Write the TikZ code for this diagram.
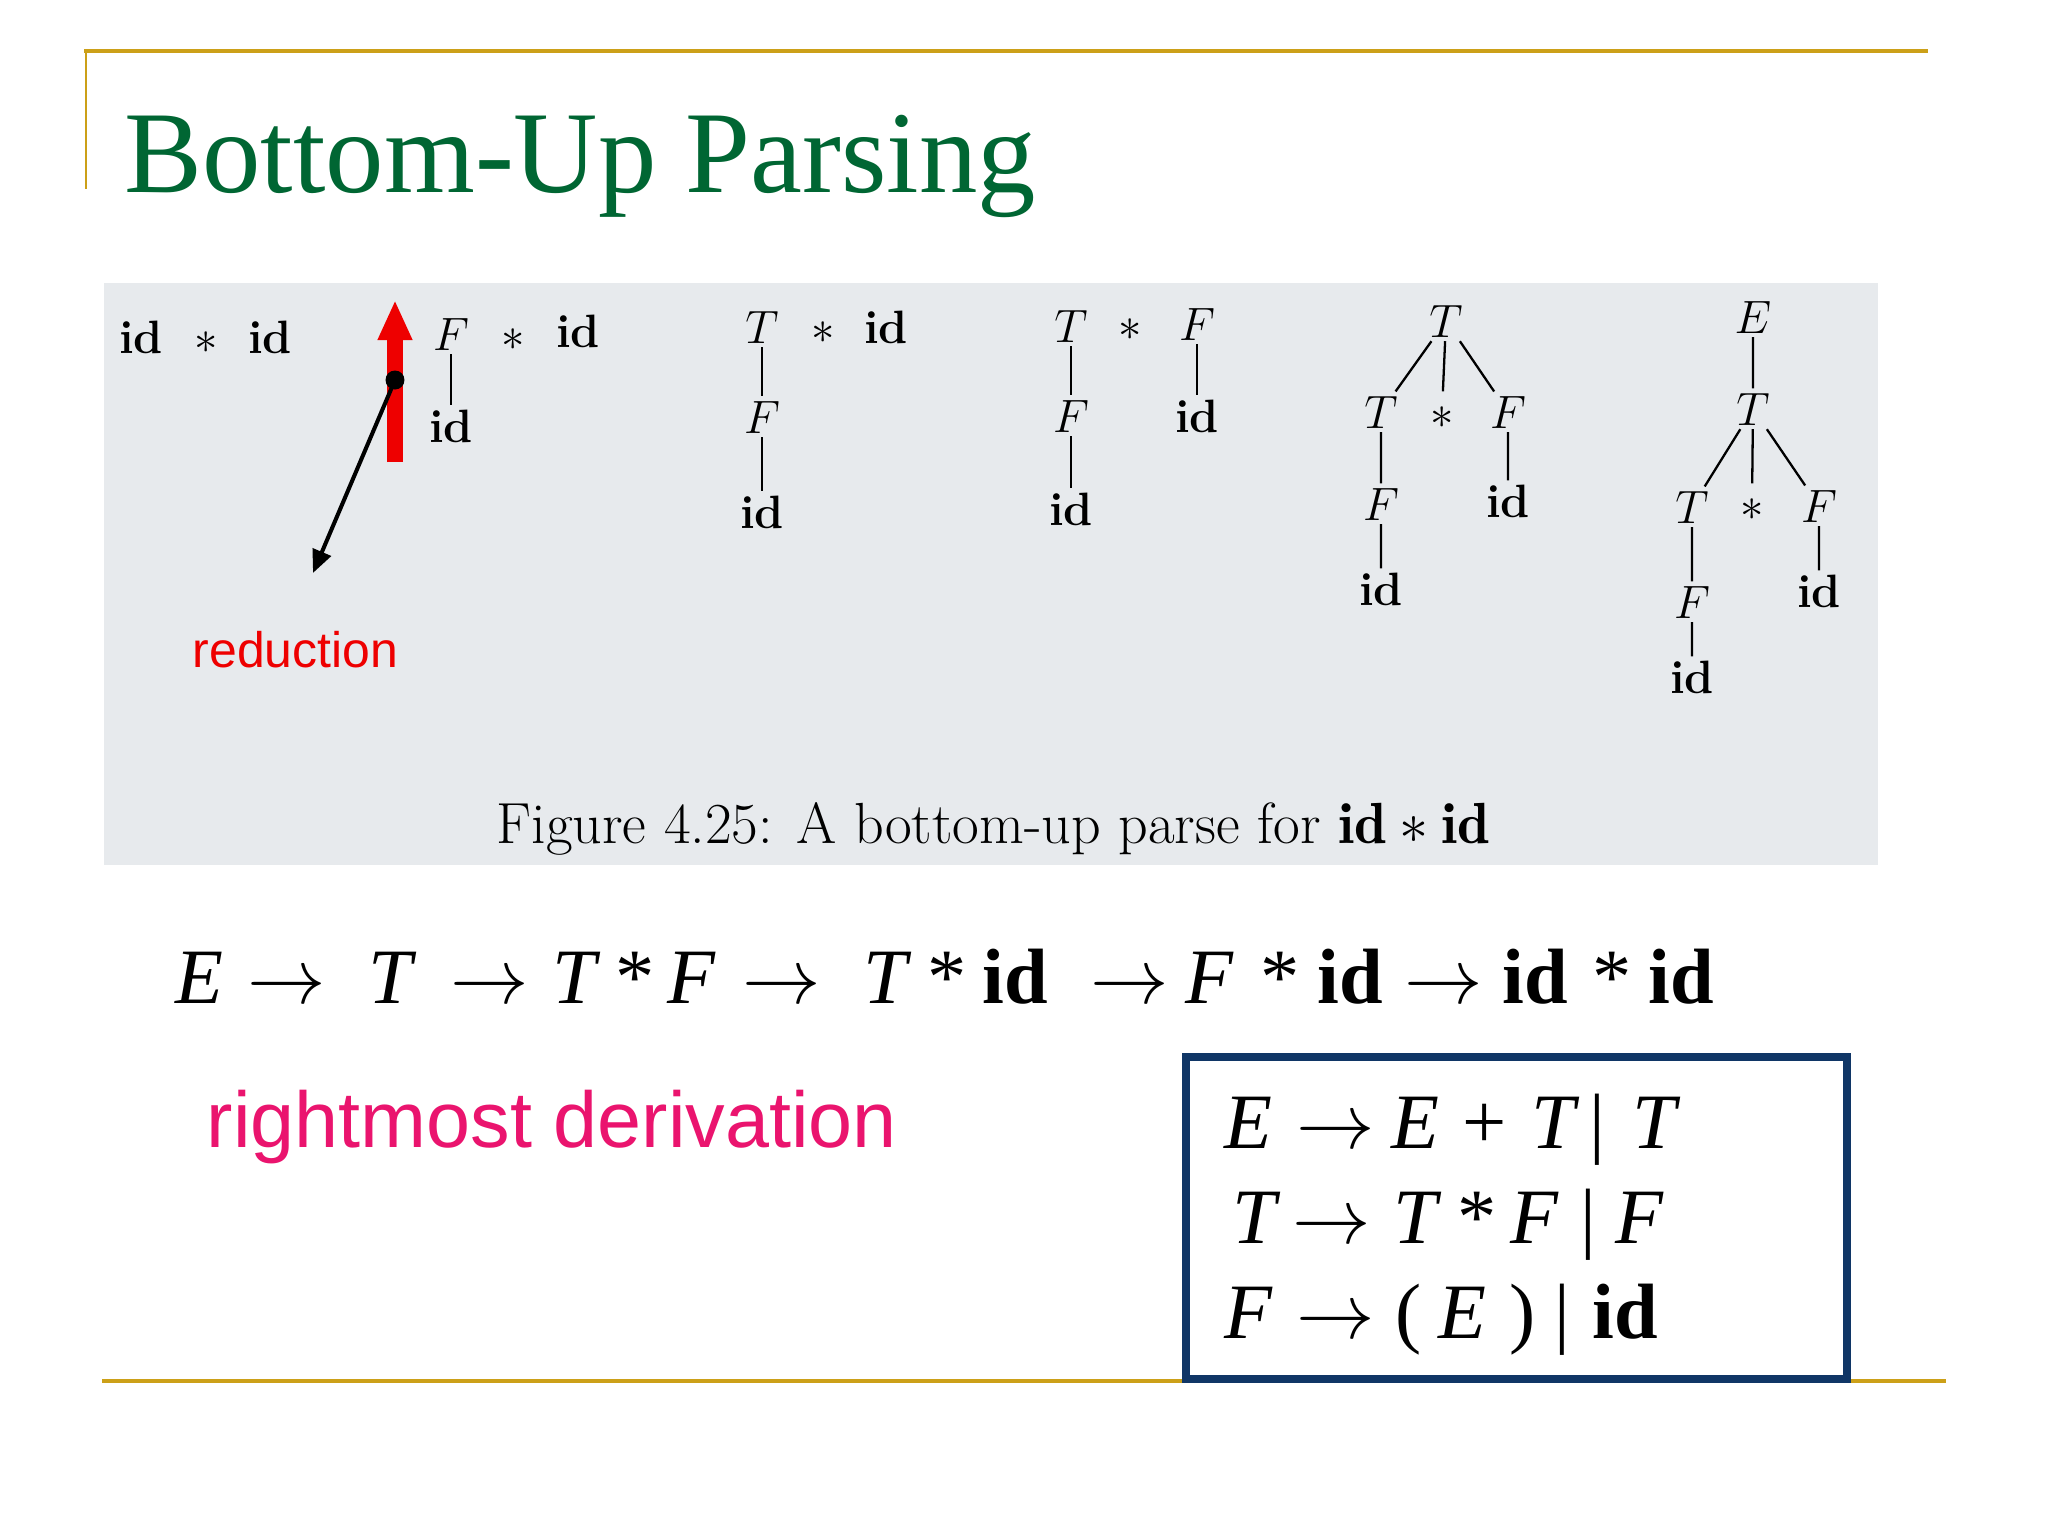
\RequirePackage{fix-cm}
\documentclass[tikz,border=0pt]{standalone}
\usepackage{fontspec}
\usepackage{amsmath,amssymb}
\usetikzlibrary{arrows.meta}
\newfontfamily\timesfont{Liberation Serif}
\newfontfamily\arialfont{Liberation Sans}
\definecolor{gold}{RGB}{204,160,24}
\definecolor{titlegreen}{RGB}{0,102,51}
\definecolor{paper}{RGB}{231,234,237}
\definecolor{boxblue}{RGB}{16,54,102}
\definecolor{pinkred}{RGB}{234,20,110}
\definecolor{redmark}{RGB}{238,0,0}

\begin{document}
\begin{tikzpicture}[x=0.01cm,y=-0.01cm,
  fig/.style={font=\fontsize{13.3}{15}\selectfont, inner sep=1pt,
    text height=9.2pt, text depth=0pt, anchor=base},
  edge/.style={line width=0.65pt},
  tok/.style={font=\timesfont\fontsize{22.3}{26}\selectfont,
    anchor=base west, inner sep=0pt}]
\useasboundingbox (0,0) rectangle (2048,1536);
\fill[white] (0,0) rectangle (2048,1536);

% frame lines and title
\draw[gold, line width=1.2pt] (84,51) -- (1928,51);
\draw[gold, line width=0.8pt] (86,51) -- (86,189);
\draw[gold, line width=1.2pt] (102,1381) -- (1946,1381);
\node[anchor=base west, inner sep=0pt, text=titlegreen,
  font=\timesfont\fontsize{33.2}{38}\selectfont] (title) at (124,192) {Bottom-Up Parsing};

% scanned figure
\fill[paper] (104,283) rectangle (1878,865);

\node[fig] (p1a) at (141,353) {\textbf{id}};
\node[fig] (p1b) at (206,353) {$*$};
\node[fig] (p1c) at (270,353) {\textbf{id}};

\node[fig] (p2a) at (451,350) {$F$};
\node[fig] (p2b) at (451,442) {\textbf{id}};
\node[fig] (p2c) at (513,350) {$*$};
\node[fig] (p2d) at (578,347) {\textbf{id}};
\draw[edge] (p2a) -- (p2b);

\node[fig] (p3a) at (762,343) {$T$};
\node[fig] (p3b) at (762,433) {$F$};
\node[fig] (p3c) at (762,528) {\textbf{id}};
\node[fig] (p3d) at (823,343) {$*$};
\node[fig] (p3e) at (886,343) {\textbf{id}};
\draw[edge] (p3a) -- (p3b) (p3b) -- (p3c);

\node[fig] (p4a) at (1071,342) {$T$};
\node[fig] (p4b) at (1071,432) {$F$};
\node[fig] (p4c) at (1071,525) {\textbf{id}};
\node[fig] (p4d) at (1130,340) {$*$};
\node[fig] (p4e) at (1197,340) {$F$};
\node[fig] (p4f) at (1197,432) {\textbf{id}};
\draw[edge] (p4a) -- (p4b) (p4b) -- (p4c) (p4e) -- (p4f);

\node[fig] (p5a) at (1446,337) {$T$};
\node[fig] (p5b) at (1381,428) {$T$};
\node[fig] (p5c) at (1442,428) {$*$};
\node[fig] (p5d) at (1508,428) {$F$};
\node[fig] (p5e) at (1381,520) {$F$};
\node[fig] (p5f) at (1381,605) {\textbf{id}};
\node[fig] (p5g) at (1508,517) {\textbf{id}};
\draw[edge] (p5a) -- (p5b) (p5a) -- (p5c) (p5a) -- (p5d)
  (p5b) -- (p5e) (p5e) -- (p5f) (p5d) -- (p5g);

\node[fig] (p6a) at (1753,333) {$E$};
\node[fig] (p6b) at (1753,425) {$T$};
\node[fig] (p6c) at (1692,523) {$T$};
\node[fig] (p6d) at (1752,520) {$*$};
\node[fig] (p6e) at (1819,522) {$F$};
\node[fig] (p6f) at (1692,618) {$F$};
\node[fig] (p6g) at (1692,693) {\textbf{id}};
\node[fig] (p6h) at (1819,607) {\textbf{id}};
\draw[edge] (p6a) -- (p6b) (p6b) -- (p6c) (p6b) -- (p6d) (p6b) -- (p6e)
  (p6c) -- (p6f) (p6f) -- (p6g) (p6e) -- (p6h);

\node[anchor=base west, inner sep=0pt, font=\fontsize{16.5}{19}\selectfont] (cap)
  at (496,843) {Figure 4.25: A bottom-up parse for $\mathbf{id}*\mathbf{id}$};

% reduction marks
\coordinate (rbot) at (395,462);
\coordinate (rtip) at (395,300);
\draw[redmark, line width=4.55pt, -{Triangle[width=9.1pt,length=11.4pt]}] (rbot) -- (rtip);
\node[circle, fill=black, inner sep=0pt, minimum size=5.4pt] (dot) at (395,380) {};
\coordinate (rtarget) at (313,573);
\draw[line width=1.15pt, -{Triangle[width=5.5pt,length=6.5pt]}] (dot.center) -- (rtarget);
\node[anchor=base west, inner sep=0pt, text=redmark,
  font=\arialfont\fontsize{14.2}{17}\selectfont] (red) at (192,667) {reduction};

% rightmost derivation
\foreach \x/\t [count=\i] in {175/{\itshape E}, 247/$\rightarrow$, 368/{\itshape T},
    450/$\rightarrow$, 552/{\itshape T}, 615/*, 667/{\itshape F}, 742/$\rightarrow$,
    863/{\itshape T}, 927/*, 982/{\bfseries id}, 1090/$\rightarrow$, 1185/{\itshape F},
    1260/*, 1317/{\bfseries id}, 1404/$\rightarrow$, 1502/{\bfseries id}, 1592/*,
    1648/{\bfseries id}}
  \node[tok] (r\i) at (\x,1003) {\t};
\node[anchor=base west, inner sep=0pt, text=pinkred,
  font=\arialfont\fontsize{22.5}{27}\selectfont] (rmd) at (206,1147) {rightmost derivation};

% grammar
\draw[boxblue, line width=2.3pt, fill=white] (1186,1057) rectangle (1847,1379);
\foreach \x/\y/\t [count=\i] in {1224/1148/{\itshape E}, 1296/1148/$\rightarrow$,
    1391/1148/{\itshape E}, 1462/1148/+, 1531/1148/{\itshape T}, 1589/1148/|,
    1632/1148/{\itshape T},
    1232/1243/{\itshape T}, 1292/1243/$\rightarrow$, 1393/1243/{\itshape T},
    1457/1243/*, 1510/1243/{\itshape F}, 1580/1243/|, 1615/1243/{\itshape F},
    1224/1338/{\itshape F}, 1296/1338/$\rightarrow$, 1395/1338/{(},
    1438/1338/{\itshape E}, 1509/1338/{)}, 1554/1338/|, 1592/1338/{\bfseries id}}
  \node[tok] (g\i) at (\x,\y) {\t};
\end{tikzpicture}
\end{document}
